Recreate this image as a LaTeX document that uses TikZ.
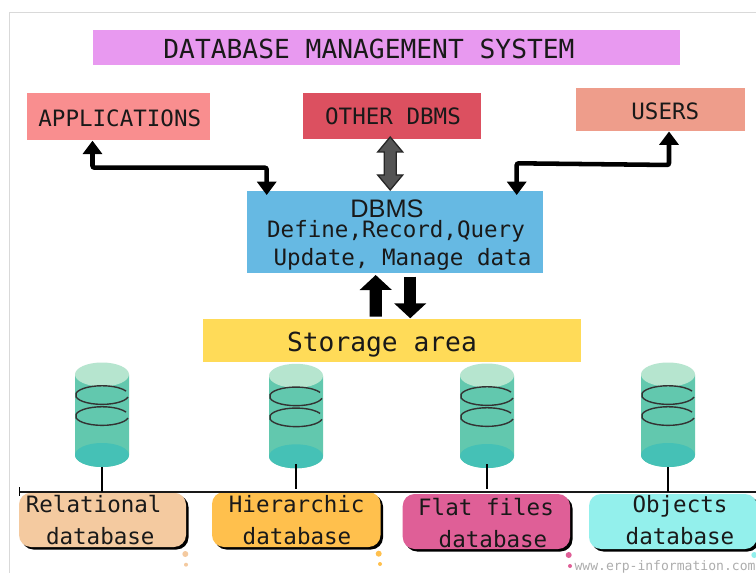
\documentclass[tikz,border=0pt]{standalone}
\usepackage{fontspec}
\setmainfont{Liberation Sans}
\newfontfamily\monof{DejaVu Sans Mono}
\usetikzlibrary{arrows.meta,calc}
\definecolor{cTitle}{HTML}{E899F0}
\definecolor{cApps}{HTML}{F98E8F}
\definecolor{cOther}{HTML}{DC5060}
\definecolor{cUsers}{HTML}{EE9D8B}
\definecolor{cDbms}{HTML}{66B9E3}
\definecolor{cStore}{HTML}{FFDB58}
\definecolor{cBody}{HTML}{62C8AE}
\definecolor{cTop}{HTML}{B6E5CF}
\definecolor{cBot}{HTML}{45C1B6}
\definecolor{cRel}{HTML}{F4CAA0}
\definecolor{cHier}{HTML}{FFC04D}
\definecolor{cFlat}{HTML}{DF5F97}
\definecolor{cObj}{HTML}{93F0EC}
\tikzset{
  box/.style={rectangle,inner sep=0pt,outer sep=0pt},
  txt/.style={anchor=base,inner sep=0pt,outer sep=0pt,font=\monof\fontsize{16.9}{20}\selectfont,text=black!90},
  txtbig/.style={txt,font=\monof\fontsize{19.7}{23}\selectfont},
  conn/.style={line width=3.4pt,rounded corners=1.5pt,
    {Triangle[width=14.2pt,length=10pt]}-{Triangle[width=14.2pt,length=10pt]}},
  fatarrow/.style={line width=9.2pt,-{Triangle[width=23.5pt,length=11.25pt]}},
  stem/.style={line width=1.7pt,black},
  ring/.style={line width=1.05pt,draw=black!80},
  lblbox/.style={rounded corners=9pt},
}
\newcommand{\dbcyl}[3]{% centre x, y shift, name
  \fill[cBody] (#1-27,374.5+#2) -- (#1-27,455+#2) arc[start angle=180,end angle=360,x radius=27,y radius=-12] -- (#1+27,374.5+#2) -- cycle;
  \fill[cBot] (#1,455+#2) ellipse[x radius=27,y radius=12];
  \fill[cTop] (#1,374.5+#2) ellipse[x radius=27,y radius=12];
  \draw[ring] (#1+26,395+#2+2) arc[start angle=12,end angle=335,x radius=26.5,y radius=9.3];
  \draw[ring] (#1+26,416+#2+2) arc[start angle=12,end angle=335,x radius=26.5,y radius=9.3];
  \coordinate (#3) at (#1,467+#2);
}
\newcommand{\lblbox}[6]{% x0,y0,x1,y1,colour,name
  \fill[black,lblbox] (#1+2.5,#2+2.5) rectangle (#3+2.5,#4+2.5);
  \path[fill=#5,lblbox] (#1,#2) rectangle (#3,#4);
  \coordinate (#6) at ({(#1+#3)/2},#2);
}
\begin{document}
\begin{tikzpicture}[x=0.75pt,y=-0.75pt]
\clip (0,0) rectangle (756,573);
\fill[white] (0,0) rectangle (756,573);
\draw[black!15,line width=0.8pt] (9.5,573) -- (9.5,12.5) -- (756,12.5);

% boxes
\node[box,fill=cTitle,minimum width=440.25pt,minimum height=26.25pt] (titlebox) at (386.5,47.5) {};
\node[box,fill=cApps,minimum width=137.25pt,minimum height=35.6pt] (apps) at (118.5,116.75) {};
\node[box,fill=cOther,minimum width=133.5pt,minimum height=34.5pt] (other) at (392,116) {};
\node[box,fill=cUsers,minimum width=126.75pt,minimum height=32.6pt] (users) at (660.5,109.75) {};
\node[box,fill=cDbms,minimum width=222pt,minimum height=61.5pt] (dbms) at (395,232) {};
\node[box,fill=cStore,minimum width=283.5pt,minimum height=32.25pt] (storage) at (392,340.5) {};

% box texts
\node[txtbig] (ttitle) at (369,58.3) {DATABASE MANAGEMENT SYSTEM};
\node[txt] (tapps) at (119.8,127) {APPLICATIONS};
\node[txt] (tother) at (393,125) {OTHER DBMS};
\node[txt] (tusers) at (665.3,119.7) {USERS};
\node[anchor=base,inner sep=0pt,font=\fontsize{19}{22}\selectfont,text=black!90] (tdbms) at (387,217.2) {DBMS};
\node[txt] (tdef) at (396,238) {Define,Record,Query};
\node[txt] (tupd) at (402.5,265.3) {Update, Manage data};
\node[txtbig] (tstore) at (382,351) {Storage area};

% connectors
\draw[conn] ($(apps.south)+(-26,0.2)$) -- ++(0,27) -| ($(dbms.north)+(-128.3,4)$);
\draw[conn] ($(users.south)+(8.5,0)$) -- ++(0,33.5) -- (516.7,163.3) -- ($(dbms.north)+(121.7,4)$);
\coordinate (otherlink) at ($(other.south)!0.5!(dbms.north)+(-3.3,-1.5)$);
\draw[draw=black!85,fill=black!67,line width=1pt,line join=miter]
  ($(otherlink)+(0,-26.5)$) -- ++(12.5,15) -- ++(-6.5,0) -- ++(0,23) -- ++(6.5,0)
  -- ++(-12.5,15) -- ++(-12.5,-15) -- ++(6.5,0) -- ++(0,-23) -- ++(-6.5,0) -- cycle;
\draw[fatarrow] ($(storage.north)+(-16.2,-2.3)$) -- ($(dbms.south)+(-19.3,2)$);
\draw[fatarrow] ($(dbms.south)+(15.2,3.7)$) -- ($(storage.north)+(18.2,-0.7)$);

% cylinders
\dbcyl{102}{0}{cyla}
\dbcyl{296}{1.3}{cylb}
\dbcyl{487}{1}{cylc}
\dbcyl{668}{0}{cyld}

% label boxes
\lblbox{19}{492.7}{186}{547}{cRel}{lrel}
\lblbox{212}{492}{380.5}{547}{cHier}{lhier}
\lblbox{402.7}{494}{570}{549}{cFlat}{lflat}
\lblbox{589}{494}{757}{549}{cObj}{lobj}

% bus and stems
\coordinate (busl) at (19.5,491.5);
\coordinate (busr) at (756,491.5);
\draw[line width=1.5pt,black!90] (busl) -- (busr);
\draw[line width=1.3pt] (19.5,487) -- (19.5,496);
\draw[stem] (cyla) -- (cyla |- busl);
\draw[stem] ($(cylb)+(0,-4.3)$) -- ($(cylb |- busl)+(0,-2.5)$);
\draw[stem] ($(cylc)+(0,-4)$) -- ($(cylc |- busl)+(0,-2.5)$);
\draw[stem] (cyld) -- (cyld |- busl);

% label texts
\node[txt] (trel) at (93.7,512.7) {Relational};
\node[txt] (tdba) at (100.3,544) {database};
\node[txt] (thier) at (296.7,512.7) {Hierarchic};
\node[txt] (tdbb) at (297,544) {database};
\node[txt] (tflat) at (486,515) {Flat files};
\node[txt] (tdbc) at (493,547.7) {database};
\node[txt] (tobj) at (680,512) {Objects};
\node[txt] (tdbd) at (680,544) {database};

% dots
\fill[cRel] (185.3,554) circle[radius=3] (186,564.7) circle[radius=2];
\fill[cHier] (378.7,553.7) circle[radius=3] (380,564) circle[radius=2];
\fill[cFlat] (568.7,555) circle[radius=3] (570,566) circle[radius=2];
\fill[cObj] (754.3,555) circle[radius=3];

% watermark
\node[anchor=base west,inner sep=0pt,font=\monof\fontsize{9.8}{12}\selectfont,text=black!32] (mark) at (574.3,570) {www.erp-information.com};
\end{tikzpicture}
\end{document}
